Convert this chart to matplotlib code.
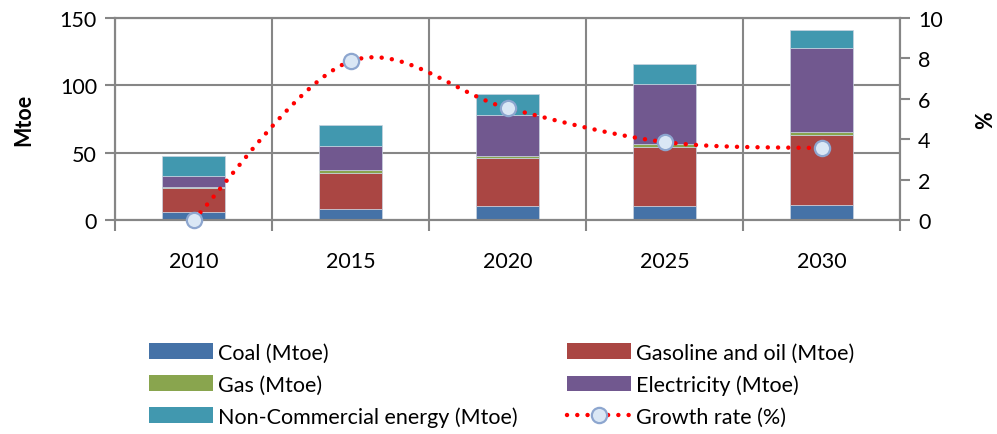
import matplotlib
matplotlib.use("Agg")
import matplotlib.pyplot as plt
import numpy as np
from matplotlib.lines import Line2D
from matplotlib.patches import Patch

years = ["2010", "2015", "2020", "2025", "2030"]
coal = [5.7, 7.9, 10.2, 10.2, 10.9]
gasoline = [18.3, 27.2, 35.6, 44.2, 52.2]
gas = [0.8, 1.8, 1.9, 1.8, 2.0]
electricity = [7.6, 17.8, 30.5, 45.0, 62.4]
noncommercial = [15.1, 15.6, 15.6, 14.6, 13.3]
growth = [0.0, 7.86, 5.54, 3.86, 3.56]

series = [
    ("Coal (Mtoe)", coal, "#4572A7"),
    ("Gasoline and oil (Mtoe)", gasoline, "#AA4643"),
    ("Gas (Mtoe)", gas, "#89A54E"),
    ("Electricity (Mtoe)", electricity, "#71588F"),
    ("Non-Commercial energy (Mtoe)", noncommercial, "#4198AF"),
]

FS = 15.5
plt.rcParams['font.family'] = ['Lato', 'DejaVu Sans']
fig = plt.figure(figsize=(9.97, 4.35), dpi=100)
ax = fig.add_axes([115/997, 1-221/435, 785/997, 202/435])
grid_c = "#868686"

x = np.arange(len(years))
bottom = np.zeros(len(years))
for name, vals, col in series:
    ax.bar(x, vals, width=0.4, bottom=bottom, color=col, edgecolor="#c9d3e0",
           linewidth=0.5, zorder=2)
    bottom += np.array(vals)

ax.set_xlim(-0.5, len(years) - 0.5)
ax.set_ylim(0, 150)
ax.set_yticks([0, 50, 100, 150])
ax.set_xticks(np.arange(len(years) + 1) - 0.5)
ax.set_xticklabels([])
ax.set_xticks(x, minor=True)
ax.set_xticklabels(years, minor=True)
ax.tick_params(axis='x', which='major', length=8, width=1.5, color=grid_c, direction='out')
ax.tick_params(axis='x', which='minor', length=0, labelsize=FS, pad=22)
ax.tick_params(axis='y', length=7, width=1.5, color=grid_c, labelsize=FS, pad=6)
ax.grid(True, which='major', color=grid_c, linewidth=1.5, zorder=0)
ax.set_axisbelow(True)
for s in ax.spines.values():
    s.set_color(grid_c)
    s.set_linewidth(1.5)
ax.set_ylabel("Mtoe", fontsize=FS, fontweight='bold', labelpad=18)

ax2 = ax.twinx()
ax2.set_ylim(0, 10)
ax2.set_yticks([0, 2, 4, 6, 8, 10])
ax2.tick_params(axis='y', length=7, width=1.5, color=grid_c, labelsize=FS, pad=6)
for s in ax2.spines.values():
    s.set_color(grid_c)
    s.set_linewidth(1.5)
ax2.set_ylabel("%", fontsize=FS, fontweight='bold', rotation=90, labelpad=23)

# Excel-style smoothed line (Catmull-Rom through the data points)
px = x.astype(float)
py = np.array(growth, dtype=float)
P = np.column_stack([px, py])
Pext = np.vstack([P[0], P, P[-1]])
curve = []
for i in range(len(P) - 1):
    p0, p1, p2, p3 = Pext[i], Pext[i+1], Pext[i+2], Pext[i+3]
    c1 = p1 + (p2 - p0) / 6
    c2 = p2 - (p3 - p1) / 6
    t = np.linspace(0, 1, 40)[:, None]
    seg = (1-t)**3*p1 + 3*(1-t)**2*t*c1 + 3*(1-t)*t**2*c2 + t**3*p2
    curve.append(seg if i == 0 else seg[1:])
curve = np.vstack(curve)
ax2.plot(curve[:, 0], curve[:, 1], color="#FF0000", linewidth=3.2,
         linestyle=(0, (0.01, 2.3)), dash_capstyle='round', zorder=3, clip_on=False)
ax2.plot(px, py, linestyle='none', marker='o', markersize=11,
         markerfacecolor="#DAE7F5", markeredgecolor="#8DA6CF", markeredgewidth=1.6,
         zorder=4, clip_on=False)

handles = [Patch(facecolor=c, edgecolor='none') for _, _, c in series]
labels = [n for n, _, _ in series]
handles.append(Line2D([0], [0], color="#FF0000", linewidth=3.2, linestyle=(0, (0.01, 2.3)),
                      dash_capstyle='round', marker='o', markersize=11,
                      markerfacecolor="#DAE7F5", markeredgecolor="#8DA6CF",
                      markeredgewidth=1.6))
labels.append("Growth rate (%)")
order = [0, 2, 4, 1, 3, 5]
leg = fig.legend([handles[i] for i in order], [labels[i] for i in order], ncol=2,
                 loc='upper left', bbox_to_anchor=(140/997, 1-335/435), frameon=False,
                 fontsize=FS, handlelength=3.0, handleheight=0.75, handletextpad=0.2,
                 columnspacing=2.3, labelspacing=0.55, borderaxespad=0)

fig.savefig("out.png", dpi=100)
